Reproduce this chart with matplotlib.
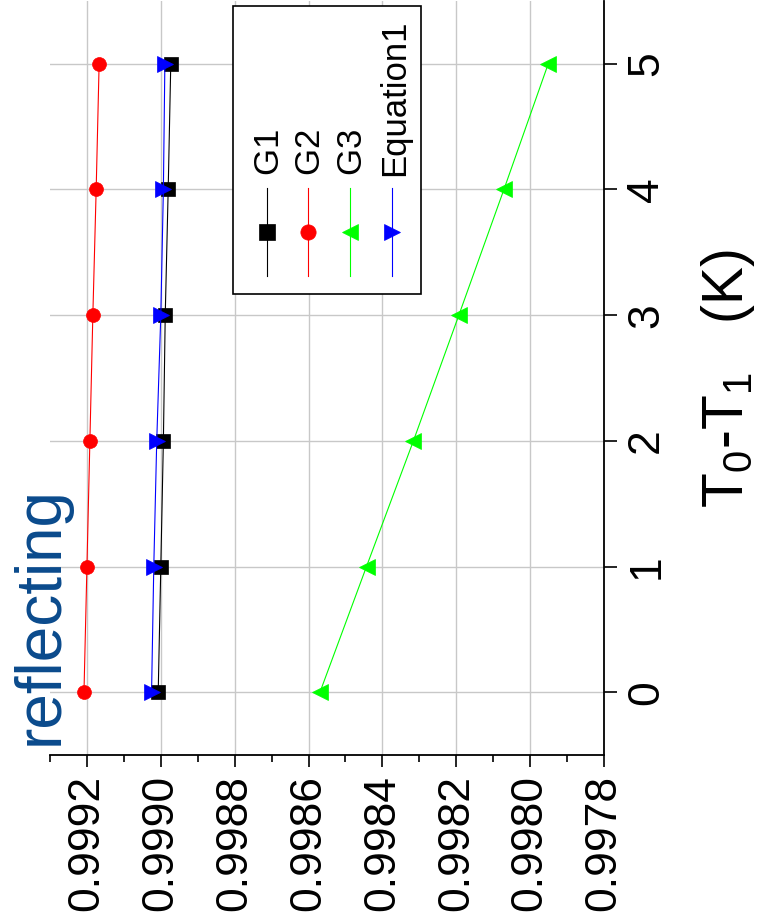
import numpy as np
import matplotlib
matplotlib.use("Agg")
import matplotlib.pyplot as plt
from matplotlib.lines import Line2D
from matplotlib.patches import Rectangle
from matplotlib.ticker import FixedLocator, FormatStrFormatter

plt.rcParams["font.family"] = ["Liberation Sans", "DejaVu Sans"]
plt.rcParams["mathtext.fontset"] = "custom"
plt.rcParams["mathtext.rm"] = "Liberation Sans"
plt.rcParams["mathtext.it"] = "Liberation Sans:italic"

# data (chart is drawn rotated: value on the horizontal axis, T0-T1 on the vertical one)
t_diff = [0, 1, 2, 3, 4, 5]
g1 = [0.999007, 0.999000, 0.998993, 0.998988, 0.998980, 0.998973]
g2 = [0.999208, 0.999200, 0.999192, 0.999184, 0.999175, 0.999167]
g3 = [0.998569, 0.998443, 0.998316, 0.998193, 0.998071, 0.997951]
eq1 = [0.999025, 0.999019, 0.999011, 0.999000, 0.998993, 0.998989]
value_ticks = [0.9992, 0.9990, 0.9988, 0.9986, 0.9984, 0.9982, 0.9980, 0.9978]
t_ticks = [0, 1, 2, 3, 4, 5]
labels = ["G$\\mathit{1}$", "G$\\mathit{2}$", "G$\\mathit{3}$", "Equation1"]

W, H = 771, 922
fig = plt.figure(figsize=(W / 100, H / 100), dpi=100)
ax = fig.add_axes([50 / W, 1 - 755 / H, 554 / W, 754 / H])


def px(x, y):
    return x / W, 1 - y / H


series = [
    (g1, "black", "s", 10),
    (g2, "red", "o", 10),
    (g3, "#00ff00", "<", 11),
    (eq1, "blue", ">", 11),
]
for vals, col, mk, ms in series:
    ax.plot(vals, t_diff, color=col, lw=0.8, marker=mk, ms=ms,
            mec=col, mew=0.5, zorder=3)

ax.set_xlim(0.9993, 0.9978)
ax.set_ylim(-0.5, 5.5)
ax.xaxis.set_major_locator(FixedLocator(value_ticks))
ax.xaxis.set_minor_locator(FixedLocator([v - 0.0001 for v in value_ticks] + [0.9993]))
ax.xaxis.set_major_formatter(FormatStrFormatter("%.4f"))
ax.yaxis.set_major_locator(FixedLocator(t_ticks))
ax.yaxis.tick_right()
ax.grid(True, color="#c8c8c8", lw=1.0, zorder=0)
ax.set_axisbelow(True)

for s in ["left", "top"]:
    ax.spines[s].set_visible(False)
for s in ["bottom", "right"]:
    ax.spines[s].set_linewidth(1.3)

ax.tick_params(axis="x", which="major", direction="out", length=8.5, width=1.2,
               labelsize=32, labelrotation=90, pad=6)
ax.tick_params(axis="x", which="minor", direction="out", length=5, width=1.2)
ax.tick_params(axis="y", which="major", direction="out", length=9, width=1.2,
               labelsize=32, labelrotation=90, pad=7, right=True, left=False)
for lab in ax.get_yticklabels():
    lab.set_va("center")

# axis title on the right
fig.text(*px(743, 508), "T$_0$-T$_1$   (K)", fontsize=41, rotation=90,
         rotation_mode="anchor", ha="left", va="baseline")

# panel note
fig.text(*px(58, 745), "reflecting", fontsize=46, color="#0a4a8c", rotation=90,
         rotation_mode="anchor", ha="left", va="baseline")

# legend box, drawn rotated
x0, y0 = px(233, 294)
x1, y1 = px(421, 6)
fig.add_artist(Rectangle((x0, y0), x1 - x0, y1 - y0, transform=fig.transFigure,
                         fill=True, facecolor="white", edgecolor="black", lw=1.2, zorder=5))
cols = [267, 308, 350, 392]
for cx, (vals, col, mk, ms), lab in zip(cols, series, labels):
    xa, ya = px(cx, 276)
    xb, yb = px(cx, 188)
    fig.add_artist(Line2D([xa, xb], [ya, yb], transform=fig.transFigure,
                          color=col, lw=0.8, zorder=6))
    xm, ym = px(cx, 232)
    fig.add_artist(Line2D([xm], [ym], transform=fig.transFigure, color=col,
                          marker=mk, ms=ms + 1, mec=col, mew=0.5, zorder=7))
    fig.text(*px(cx + 12, 176), lab, fontsize=25, rotation=90,
             rotation_mode="anchor", ha="left", va="baseline", zorder=7)

fig.savefig("out.png", dpi=100)
